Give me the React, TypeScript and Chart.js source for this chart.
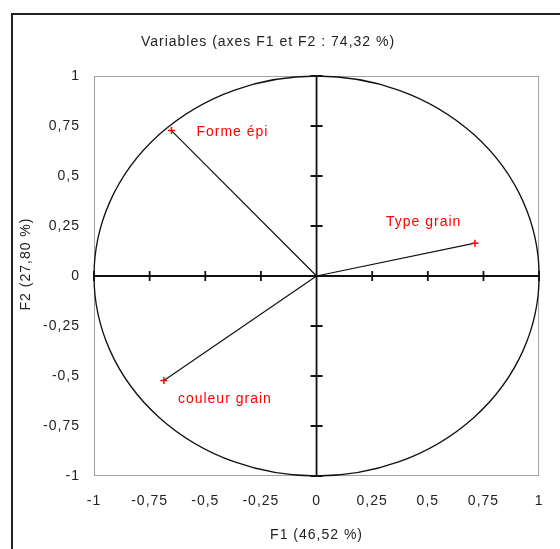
import { useEffect, useRef } from "react";
import { Chart, registerables } from "chart.js";

Chart.register(...registerables);

// Correlations of the variables with the first two factors
const variableNames = ["Forme épi", "Type grain", "couleur grain"];
const f1Values = [-0.652, 0.712, -0.686];
const f2Values = [0.727, 0.164, -0.523];

const tickValues = [-1, -0.75, -0.5, -0.25, 0, 0.25, 0.5, 0.75, 1];
const tickLabels = ["-1", "-0,75", "-0,5", "-0,25", "0", "0,25", "0,5", "0,75", "1"];

const chartTitle = "Variables (axes F1 et F2 : 74,32 %)";
const xAxisTitle = "F1 (46,52 %)";
const yAxisTitle = "F2 (27,80 %)";

const FONT_FAMILY = "'Liberation Sans', Arial, sans-serif";
const TEXT_FONT = `14px ${FONT_FAMILY}`;
const SPACING = "1px";

// Offsets (px) of each variable name from its point
const nameOffsets: [number, number][] = [
  [25, 2],
  [-89, -21],
  [14, 19],
];

const tickLabel = (value: number | string) => {
  const v = Number(value);
  const i = tickValues.findIndex((t) => Math.abs(t - v) < 1e-9);
  return i >= 0 ? tickLabels[i] : "";
};

const circlePlugin = {
  id: "correlationCircle",
  beforeDraw(chart: any) {
    (chart.ctx as any).letterSpacing = SPACING;
    const ctx = chart.ctx;
    // outer chart frame
    ctx.save();
    ctx.strokeStyle = "#222";
    ctx.lineWidth = 2;
    ctx.beginPath();
    ctx.moveTo(12, chart.height);
    ctx.lineTo(12, 14);
    ctx.lineTo(chart.width, 14);
    ctx.stroke();
    ctx.restore();
  },
  beforeDatasetsDraw(chart: any) {
    const ctx = chart.ctx;
    const { left, right, top, bottom } = chart.chartArea;
    const xs = chart.scales.x;
    const ys = chart.scales.y;
    const cx = xs.getPixelForValue(0);
    const cy = ys.getPixelForValue(0);
    ctx.save();
    // plot frame
    ctx.strokeStyle = "#a0a0a0";
    ctx.lineWidth = 1;
    ctx.strokeRect(left + 0.5, top + 0.5, right - left - 1, bottom - top - 1);

    // unit circle
    const rx = xs.getPixelForValue(1) - cx;
    const ry = cy - ys.getPixelForValue(1);
    ctx.strokeStyle = "#111";
    ctx.lineWidth = 1.3;
    ctx.beginPath();
    ctx.ellipse(cx, cy, rx, ry, 0, 0, Math.PI * 2);
    ctx.stroke();

    // axes through the origin with tick marks
    ctx.lineWidth = 1.8;
    ctx.beginPath();
    ctx.moveTo(left, cy);
    ctx.lineTo(right, cy);
    ctx.moveTo(cx, top);
    ctx.lineTo(cx, bottom);
    tickValues.forEach((t) => {
      const px = xs.getPixelForValue(t);
      ctx.moveTo(px, cy - 5);
      ctx.lineTo(px, cy + 5);
      const py = ys.getPixelForValue(t);
      ctx.moveTo(cx - 6, py);
      ctx.lineTo(cx + 6, py);
    });
    ctx.stroke();
    ctx.restore();
  },
  afterDraw(chart: any) {
    const ctx = chart.ctx;
    const xs = chart.scales.x;
    const ys = chart.scales.y;
    const { left, right, top, bottom } = chart.chartArea;
    ctx.save();
    ctx.font = TEXT_FONT;
    ctx.textBaseline = "middle";

    // variable names
    ctx.fillStyle = "#ff0000";
    ctx.textAlign = "left";
    variableNames.forEach((name, i) => {
      const px = xs.getPixelForValue(f1Values[i]);
      const py = ys.getPixelForValue(f2Values[i]);
      ctx.fillText(name, px + nameOffsets[i][0], py + nameOffsets[i][1]);
    });

    // titles
    ctx.fillStyle = "#222";
    ctx.textAlign = "center";
    ctx.fillText(chartTitle, 268, 42);
    ctx.fillText(xAxisTitle, (left + right) / 2, 535);
    ctx.translate(26, (top + bottom) / 2 - 12);
    ctx.rotate(-Math.PI / 2);
    ctx.fillText(yAxisTitle, 0, 0);
    ctx.restore();
    (chart.ctx as any).letterSpacing = "0px";
  },
};

export default function App() {
  const canvasRef = useRef<HTMLCanvasElement | null>(null);

  useEffect(() => {
    if (!canvasRef.current) return;
    const datasets = variableNames.map((name, i) => ({
      label: name,
      data: [
        { x: 0, y: 0 },
        { x: f1Values[i], y: f2Values[i] },
      ],
      showLine: true,
      borderColor: "#111",
      borderWidth: 1.2,
      pointStyle: "cross" as const,
      pointRadius: [0, 3.5],
      pointBorderColor: "#ff0000",
      pointBackgroundColor: "#ff0000",
      pointBorderWidth: 1.5,
    }));

    const tickFont = { family: FONT_FAMILY, size: 14 };

    const chart = new Chart(canvasRef.current, {
      type: "scatter",
      data: { datasets },
      options: {
        animation: false,
        responsive: true,
        maintainAspectRatio: false,
        layout: { padding: { left: 0, right: 20, top: 76, bottom: 0 } },
        plugins: {
          legend: { display: false },
          tooltip: { enabled: false },
          title: { display: false },
        },
        scales: {
          x: {
            type: "linear",
            min: -1,
            max: 1,
            afterBuildTicks: (scale: any) => {
              scale.ticks = tickValues.map((v) => ({ value: v }));
            },
            afterFit: (scale: any) => {
              scale.height = 73;
            },
            grid: { display: false, drawTicks: false },
            border: { display: false },
            ticks: {
              autoSkip: false,
              maxRotation: 0,
              padding: 17,
              color: "#222",
              font: tickFont,
              callback: tickLabel,
            },
          },
          y: {
            type: "linear",
            min: -1,
            max: 1,
            afterBuildTicks: (scale: any) => {
              scale.ticks = tickValues.map((v) => ({ value: v }));
            },
            afterFit: (scale: any) => {
              scale.width = 94;
            },
            grid: { display: false, drawTicks: false },
            border: { display: false },
            ticks: {
              autoSkip: false,
              padding: 14,
              color: "#222",
              font: tickFont,
              callback: tickLabel,
            },
          },
        },
      },
      plugins: [circlePlugin],
    });
    return () => chart.destroy();
  }, []);

  return (
    <div
      style={{
        position: "absolute",
        left: 0,
        top: 0,
        width: 560,
        height: 549,
        background: "#fff",
      }}
    >
      <canvas ref={canvasRef} />
    </div>
  );
}
